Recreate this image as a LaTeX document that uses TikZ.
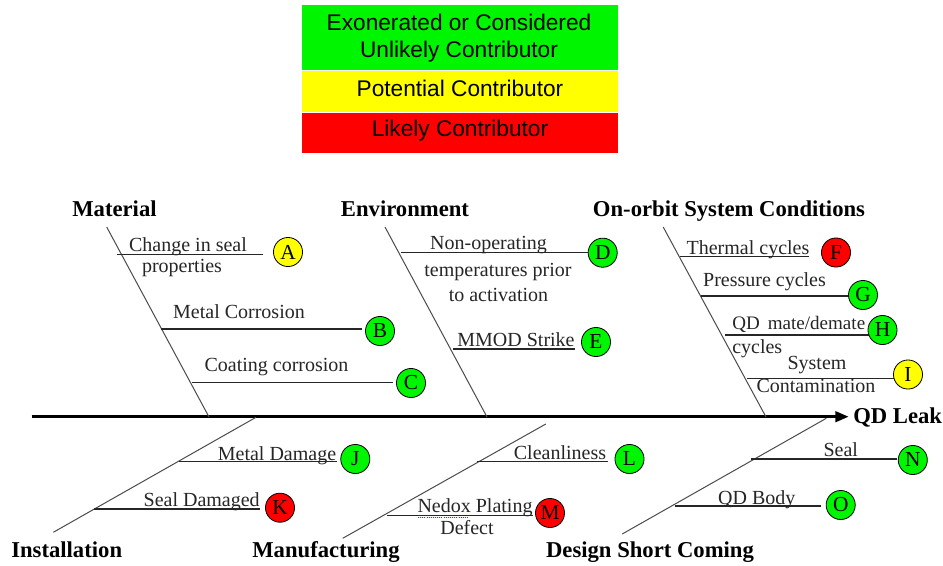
\documentclass[tikz,border=0pt]{standalone}
\usepackage{fontspec}
\setmainfont{Liberation Serif}
\newfontfamily\legendfont{Liberation Sans}
\usetikzlibrary{arrows.meta}
\definecolor{cgreen}{RGB}{0,245,0}
\definecolor{cyellow}{RGB}{255,255,0}
\definecolor{cred}{RGB}{255,0,0}
\begin{document}
\begin{tikzpicture}[x=0.75pt,y=-0.75pt,
  lbl/.style={anchor=base,inner sep=0pt,font=\fontsize{15}{18}\selectfont,text=black!85},
  hdr/.style={anchor=base,inner sep=0pt,font=\fontsize{17}{20}\selectfont\bfseries},
  badge/.style={circle,draw=black,line width=0.6pt,minimum size=21.8pt,inner sep=0pt,font=\fontsize{16}{16}\selectfont},
  bone/.style={draw=black!70,line width=0.75pt},
  rib/.style={draw=black!85,line width=0.8pt},
  legtxt/.style={anchor=base,inner sep=0pt,font=\legendfont\fontsize{17}{20}\selectfont}]
\fill[white] (0,0) rectangle (943,565);
\useasboundingbox (0,0) rectangle (943,565);
% legend
\fill[cgreen] (302,5) rectangle (618,69.5);
\fill[cyellow] (302,71) rectangle (618,111.5);
\fill[cred] (302,113) rectangle (618,153);
\node[legtxt] (lg1) at (459,30) {Exonerated or Considered};
\node[legtxt] (lg2) at (459,57.3) {Unlikely Contributor};
\node[legtxt] (ly) at (460,96.7) {Potential Contributor};
\node[legtxt] (lr) at (460,136.7) {Likely Contributor};
% spine
\coordinate (tail) at (31.7,416.7);
\coordinate (head) at (848.6,416.7);
\draw[line width=2pt,-{Triangle[length=10pt,width=8pt]}] (tail) -- (head);
\node[hdr,anchor=base west] (leak) at (853,423) {QD Leak};
% headers
\node[hdr] (hmat) at (114.5,216.7) {Material};
\node[hdr] (henv) at (405,216.7) {Environment};
\node[hdr] (horb) at (729,216.7) {On-orbit System Conditions};
\node[hdr] (hins) at (66.7,557.3) {Installation};
\node[hdr] (hman) at (326,557.3) {Manufacturing};
\node[hdr] (hdsc) at (650,557.3) {Design Short Coming};
% bones
\coordinate (m1) at (106.7,227); \coordinate (m2) at (209,417);
\coordinate (e1) at (385,227); \coordinate (e2) at (487,417);
\coordinate (o1) at (663.2,227); \coordinate (o2) at (766,417);
\coordinate (i1) at (53.3,532.3); \coordinate (i2) at (256,417.3);
\coordinate (f1) at (342.7,538.3); \coordinate (f2) at (545.8,424);
\coordinate (d1) at (622.2,534); \coordinate (d2) at (826.3,418.3);
\draw[bone] (m1) -- (m2);
\draw[bone] (e1) -- (e2);
\draw[bone] (o1) -- (o2);
\draw[bone] (i1) -- (i2);
\draw[bone] (f1) -- (f2);
\draw[bone] (d1) -- (d2);
% ribs
\coordinate (a1) at (117,254.3); \coordinate (a2) at (263,254.3);
\coordinate (b1) at (160.7,329); \coordinate (b2) at (361.7,329);
\coordinate (c1) at (191.7,382.3); \coordinate (c2) at (393,382.3);
\coordinate (dd1) at (400.7,252.7); \coordinate (dd2) at (590,252.7);
\coordinate (ee1) at (453,349); \coordinate (ee2) at (575,349);
\coordinate (ff1) at (679.5,256.7); \coordinate (ff2) at (809,256.7);
\coordinate (g1) at (700.5,296); \coordinate (g2) at (849,296);
\coordinate (h1) at (725,335); \coordinate (h2) at (870.5,335);
\coordinate (ii1) at (747,378.3); \coordinate (ii2) at (895,378.3);
\coordinate (j1) at (179,461.7); \coordinate (j2) at (336.7,461.7);
\coordinate (k1) at (94.3,509); \coordinate (k2) at (260,509);
\coordinate (l1) at (476.6,461.7); \coordinate (l2) at (607.8,461.7);
\coordinate (mm1) at (387.2,515.3); \coordinate (mm2) at (533.2,515.3);
\coordinate (n1) at (751.3,459); \coordinate (n2) at (897.3,459);
\coordinate (oo1) at (674.9,506); \coordinate (oo2) at (820.5,506);
\foreach \p in {a,b,c,dd,ee,ff,g,h,ii,j,k,l,mm,n,oo} \draw[rib] (\p1) -- (\p2);
% labels
\node[lbl] (ta1) at (188,251) {Change in seal};
\node[lbl] (ta2) at (182,272) {properties};
\node[lbl] (tb) at (239,318.3) {Metal Corrosion};
\node[lbl] (tc) at (276.5,371.7) {Coating corrosion};
\node[lbl] (td1) at (488.5,249.3) {Non-operating};
\node[lbl] (td2) at (498,276.7) {temperatures prior};
\node[lbl] (td3) at (498.5,301) {to activation};
\node[lbl] (te) at (516,346.7) {MMOD Strike};
\node[lbl] (tf) at (748,254) {Thermal cycles};
\node[lbl] (tg) at (764.5,286.7) {Pressure cycles};
\node[lbl,anchor=base west,font=\fontsize{14.3}{17}\selectfont] (th1) at (732,329.3) {QD\hspace{6pt}mate/demate};
\node[lbl,anchor=base west] (th2) at (732,353.3) {cycles};
\node[lbl] (ti1) at (817,369) {System};
\node[lbl] (ti2) at (816,392.3) {Contamination};
\node[lbl] (tj) at (277,460) {Metal Damage};
\node[lbl] (tk) at (201.7,506.7) {Seal Damaged};
\node[lbl] (tl) at (560,459.3) {Cleanliness};
\node[lbl] (tm1) at (475,512.3) {Nedox Plating};
\node[lbl] (tm2) at (467,534) {Defect};
\node[lbl] (tn) at (840.8,456) {Seal};
\node[lbl] (to) at (756.8,504) {QD Body};
\coordinate (sq1) at (418,517.5); \coordinate (sq2) at (468,517.5);
\draw[cred,line width=0.6pt,densely dotted] (sq1) -- (sq2);
% badges
\node[badge,fill=cyellow] (A) at (288,252) {A};
\node[badge,fill=cgreen] (B) at (380,331) {B};
\node[badge,fill=cgreen] (C) at (411,383) {C};
\node[badge,fill=cgreen] (D) at (602.7,252.7) {D};
\node[badge,fill=cgreen] (E) at (596,342) {E};
\node[badge,fill=cred] (F) at (836,252.5) {F};
\node[badge,fill=cgreen] (G) at (863,295) {G};
\node[badge,fill=cgreen] (H) at (882.5,330) {H};
\node[badge,fill=cyellow] (I) at (908,374.5) {I};
\node[badge,fill=cgreen] (J) at (355.3,459) {J};
\node[badge,fill=cred] (K) at (280,507.7) {K};
\node[badge,fill=cgreen] (L) at (629.5,459) {L};
\node[badge,fill=cred] (M) at (550,513) {M};
\node[badge,fill=cgreen] (N) at (912.8,460) {N};
\node[badge,fill=cgreen] (O) at (840.7,505) {O};
\end{tikzpicture}
\end{document}
